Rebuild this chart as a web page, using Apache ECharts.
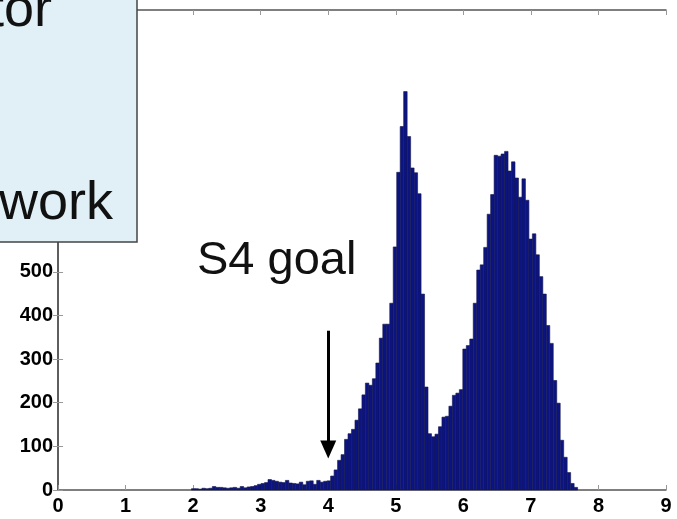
<!DOCTYPE html>
<html>
<head>
<meta charset="utf-8">
<script src="https://cdn.jsdelivr.net/npm/echarts@6/dist/echarts.min.js"></script>
<style>
  html, body { margin: 0; padding: 0; background: #fff; }
  #chart { width: 677px; height: 519px; }
</style>
</head>
<body>
<div id="chart"></div>
<script>
// histogram bins: first edge and width
var binStart = 1.975;
var binWidth = 0.0515;

// counts per bin
var counts = [
  3, 3, 2, 4, 3, 4, 8, 6, 6, 5,
  4, 5, 6, 4, 8, 5, 7, 8, 10, 13,
  15, 17, 24, 22, 20, 18, 17, 22, 16, 15,
  14, 18, 12, 20, 21, 13, 22, 18, 20, 21,
  32, 46, 68, 81, 116, 129, 139, 160, 186, 218,
  245, 240, 255, 291, 348, 380, 380, 428, 557, 728,
  833, 913, 810, 738, 727, 679, 449, 236, 129, 122,
  128, 145, 167, 169, 192, 217, 222, 230, 323, 331,
  346, 428, 504, 516, 556, 632, 677, 767, 765, 770,
  776, 731, 752, 715, 671, 713, 664, 575, 587, 539,
  489, 449, 377, 336, 251, 199, 114, 75, 40, 15,
  6
];

var xTicks = [0, 1, 2, 3, 4, 5, 6, 7, 8, 9];
var yMax = 1100;

// arrow for the annotation: from -> head
var arrowFrom = [4, 365];
var arrowTo = [4, 93];

var chart = echarts.init(document.getElementById('chart'));

var histData = [];
for (var i = 0; i < counts.length; i++) {
  histData.push([binStart + i * binWidth, counts[i]]);
}

var labelFont = {
  color: '#000',
  fontWeight: 'bold',
  fontSize: 20,
  fontFamily: 'Liberation Sans, Arial, sans-serif'
};

var option = {
  animation: false,
  grid: { left: 58, right: 11, top: 8, bottom: 29, containLabel: false },
  xAxis: [
    {
      type: 'value', min: 0, max: 9, interval: 1, position: 'bottom',
      axisLine: { show: true, onZero: false, lineStyle: { color: '#555', width: 1.5 } },
      axisTick: { show: true, inside: true, length: 5, lineStyle: { color: '#999' } },
      axisLabel: Object.assign({ margin: 6 }, labelFont),
      splitLine: { show: false }
    },
    {
      type: 'value', min: 0, max: 9, interval: 1, position: 'top',
      axisLine: { show: true, onZero: false, lineStyle: { color: '#555', width: 1.5 } },
      axisTick: { show: true, inside: true, length: 5, lineStyle: { color: '#999' } },
      axisLabel: { show: false },
      splitLine: { show: false }
    }
  ],
  yAxis: [
    {
      type: 'value', min: 0, max: yMax, interval: 100, position: 'left',
      axisLine: { show: true, lineStyle: { color: '#555', width: 1.5 } },
      axisTick: { show: true, inside: true, length: 5, lineStyle: { color: '#999' } },
      axisLabel: Object.assign({ margin: 5 }, labelFont),
      splitLine: { show: false }
    },
    {
      type: 'value', min: 0, max: yMax, interval: 100, position: 'right',
      axisLine: { show: true, lineStyle: { color: '#555', width: 1.5 } },
      axisTick: { show: true, inside: true, length: 5, lineStyle: { color: '#999' } },
      axisLabel: { show: false },
      splitLine: { show: false }
    }
  ],
  series: [
    {
      type: 'custom',
      xAxisIndex: 0,
      yAxisIndex: 0,
      data: histData,
      renderItem: function (params, api) {
        var x = api.value(0);
        var y = api.value(1);
        var p0 = api.coord([x, y]);
        var p1 = api.coord([x + binWidth, 0]);
        return {
          type: 'rect',
          shape: { x: p0[0], y: p0[1], width: p1[0] - p0[0], height: p1[1] - p0[1] },
          style: { fill: '#0c1482', stroke: '#14184a', lineWidth: 0.6 }
        };
      },
      markLine: {
        silent: true,
        symbol: ['none', 'triangle'],
        symbolSize: [16, 18],
        label: { show: false },
        lineStyle: { color: '#000', width: 3, type: 'solid' },
        data: [[{ coord: arrowFrom }, { coord: arrowTo }]]
      }
    }
  ],
  graphic: [
    {
      type: 'rect', z: 100,
      shape: { x: -2, y: -2, width: 139, height: 244 },
      style: { fill: '#e1f0f6', stroke: '#444', lineWidth: 1.5 }
    },
    {
      type: 'text', z: 101, x: 52, y: -16,
      style: { text: 'tor', fill: '#111', font: '54px "Liberation Sans", Arial, sans-serif', align: 'right', verticalAlign: 'top' }
    },
    {
      type: 'text', z: 101, x: 113, y: 177,
      style: { text: 'work', fill: '#111', font: '54px "Liberation Sans", Arial, sans-serif', align: 'right', verticalAlign: 'top' }
    },
    {
      type: 'text', z: 101, x: 197, y: 238,
      style: { text: 'S4 goal', fill: '#111', font: '47px "Liberation Sans", Arial, sans-serif', align: 'left', verticalAlign: 'top' }
    }
  ]
};

chart.setOption(option);
</script>
</body>
</html>
